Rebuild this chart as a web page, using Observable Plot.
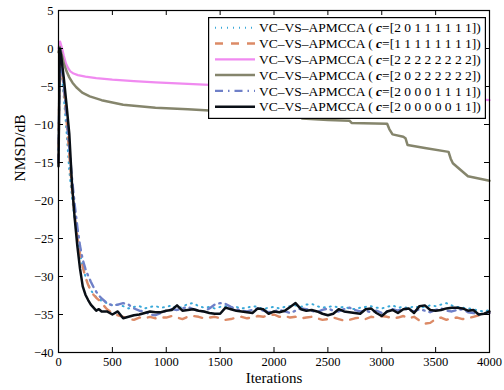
<!DOCTYPE html>
<html><head><meta charset="utf-8">
<script src="https://cdn.jsdelivr.net/npm/d3@7"></script>
<script src="https://cdn.jsdelivr.net/npm/@observablehq/plot@0.6"></script>
<style>
body{margin:0;background:#fff}
#wrap{position:relative;width:504px;height:390px;font-family:"Liberation Serif","Times New Roman",serif}
#legend{position:absolute;left:208px;top:17px}
</style></head><body><div id="wrap"></div>
<script>
// ---- data ----
const xTicks = [0, 500, 1000, 1500, 2000, 2500, 3000, 3500, 4000];
const yTicks = [-40, -35, -30, -25, -20, -15, -10, -5, 0, 5];

const iters = [0, 12, 25, 50, 75, 100, 125, 150, 175, 200, 225, 250, 275, 300, 325, 350, 375, 400,
  450, 500, 550, 600, 650, 700, 750, 800, 850, 900, 950, 1000,
  1050, 1100, 1150, 1200, 1250, 1300, 1350, 1400, 1450, 1500, 1550, 1600, 1650, 1700, 1750, 1800, 1850, 1900, 1950, 2000,
  2050, 2100, 2150, 2200, 2250, 2300, 2350, 2400, 2450, 2500, 2550, 2600, 2650, 2700, 2750, 2800, 2850, 2900, 2950, 3000,
  3050, 3100, 3150, 3200, 3250, 3300, 3350, 3400, 3450, 3500, 3550, 3600, 3650, 3700, 3750, 3800, 3850, 3900, 3950, 4000];

// c=[2 0 1 1 1 1 1 1]  (dotted)
const sDotted = [-15, 0, -2.5, -6.5, -11, -16, -19.5, -22.5, -25, -27, -28.7, -30, -31, -31.8, -32.3, -32.7, -33.0, -33.2,
  -33.5, -33.8, -33.7, -33.9, -34.2, -34.0, -33.9, -34.2, -34.0, -33.9, -34.1, -34.0,
  -33.8, -34.2, -34.0, -33.6, -33.5, -33.9, -34.1, -34.0, -34.2, -34.0, -33.9, -34.1, -34.0, -34.2, -34.1, -33.9, -34.0, -34.3, -34.1, -34.0,
  -34.2, -34.0, -33.9, -33.8, -34.0, -33.7, -33.6, -33.9, -34.1, -34.0, -33.9, -34.1, -34.0, -34.2, -34.3, -34.1, -34.0, -33.9, -34.1, -34.2,
  -34.0, -33.8, -34.1, -34.0, -34.2, -33.9, -34.1, -34.0, -33.8, -33.9, -33.7, -33.5, -33.8, -34.0, -34.1, -34.2, -34.3, -34.5, -34.6, -34.4];

// c=[1 1 1 1 1 1 1 1]  (dashed)
const sDashed = [-15, 0.3, -2, -5.5, -9.5, -14, -18.5, -22, -24.8, -27, -28.7, -30.1, -31.1, -31.9, -32.4, -32.8, -33.1, -33.5,
  -34.3, -34.8, -35.1, -35.3, -35.6, -35.7, -35.4, -35.5, -35.3, -35.5, -35.4, -35.4,
  -35.2, -35.4, -35.6, -35.3, -35.2, -35.3, -35.5, -35.4, -35.3, -35.5, -35.7, -35.6, -35.4, -35.3, -35.5, -35.4, -35.2, -35.3, -35.1, -35.0,
  -35.3, -35.2, -35.4, -35.3, -35.5, -35.4, -35.3, -35.5, -35.7, -35.6, -35.4, -35.6, -35.8, -35.7, -35.5, -35.4, -35.6, -35.3, -35.4, -35.2,
  -35.3, -35.5, -35.4, -35.2, -35.5, -35.3, -35.8, -36.2, -36.1, -35.6, -35.4, -35.7, -35.5, -35.4, -35.6, -35.5, -35.3, -35.1, -35.0, -34.8];

// c=[2 0 0 0 1 1 1 1]  (dash-dot)
const sDashDot = [-15, 0.2, -2, -5, -9, -13, -17, -20.5, -23.5, -26, -27.8, -29, -29.9, -30.7, -31.4, -32.0, -32.5, -32.9,
  -33.5, -33.8, -33.7, -33.5, -33.7, -34.2, -34.5, -34.6, -35.0, -35.1, -34.8, -34.5,
  -34.3, -34.4, -34.2, -34.0, -34.3, -34.5, -34.6, -34.2, -33.7, -33.5, -33.6, -34.0, -34.3, -34.5, -34.6, -34.4, -34.2, -34.5, -34.7, -34.6,
  -34.4, -34.6, -34.8, -34.5, -34.2, -34.3, -34.5, -34.7, -34.4, -34.2, -34.5, -34.6, -34.3, -34.1, -34.4, -34.6, -34.5, -34.7, -34.5, -34.8,
  -34.6, -34.3, -34.5, -34.2, -34.4, -34.6, -34.3, -34.5, -34.7, -34.4, -34.2, -34.5, -34.6, -34.4, -34.3, -34.7, -34.8, -35.0, -34.9, -34.8];

// c=[2 0 0 0 0 0 1 1]  (black)
const sBlack = [-15.5, 0, -1, -4, -7.5, -11.2, -17.8, -22.3, -26, -29, -31.3, -32.4, -33.1, -33.7, -34.1, -34.5, -34.3, -34.6,
  -34.6, -35.0, -34.6, -35.5, -35.3, -35.1, -35.0, -34.8, -34.6, -34.7, -34.7, -34.5,
  -34.4, -33.8, -34.5, -34.4, -34.3, -34.5, -34.6, -34.8, -34.9, -34.9, -34.1, -34.3, -34.5, -34.6, -34.7, -34.8, -34.2, -34.3, -34.9, -34.6,
  -34.7, -34.5, -34.0, -33.5, -34.3, -34.5, -34.4, -34.6, -34.9, -35.1, -34.9, -34.3, -34.6, -34.7, -34.8, -34.9, -34.3, -34.2, -34.8, -35.2,
  -34.6, -34.4, -34.8, -34.3, -34.2, -34.8, -33.9, -33.8, -34.4, -34.5, -34.4, -34.2, -34.1, -34.1, -34.2, -34.5, -34.4, -35.0, -34.9, -34.6];

// c=[2 2 2 2 2 2 2 2]  (pink)
const pinkX = [0, 15, 30, 50, 70, 90, 110, 140, 180, 250, 350, 500, 700, 900, 1100, 1350, 1600, 2000, 2500, 3000, 3500, 3800, 4000];
const pinkY = [0.0, 0.9, 0.2, -1.0, -2.0, -2.6, -3.0, -3.3, -3.5, -3.7, -3.9, -4.1, -4.3, -4.45, -4.6, -4.75, -4.9, -5.1, -5.5, -5.9, -6.4, -6.6, -6.8];

// c=[2 0 2 2 2 2 2 2]  (grey)
const greyX = [0, 12, 30, 50, 75, 100, 130, 165, 220, 290, 400, 600, 900, 1200, 1400, 1700, 2000, 2240, 2260, 2500, 2700, 2720, 3050, 3070, 3100, 3200, 3220, 3240, 3400, 3620, 3640, 3660, 3700, 3800, 3900, 4000];
const greyY = [-0.5, 0.2, -0.8, -2.0, -3.0, -3.8, -4.5, -5.1, -5.8, -6.3, -6.8, -7.4, -7.8, -8.0, -8.15, -8.3, -8.4, -8.5, -9.2, -9.4, -9.5, -9.8, -9.9, -10.6, -11.3, -11.6, -11.8, -12.7, -13.1, -13.6, -14.5, -15.1, -15.6, -16.8, -17.1, -17.4];

const labels = [
  "VC–VS–APMCCA ( |c|=[2 0 1 1 1 1 1 1])",
  "VC–VS–APMCCA ( |c|=[1 1 1 1 1 1 1 1])",
  "VC–VS–APMCCA ( |c|=[2 2 2 2 2 2 2 2])",
  "VC–VS–APMCCA ( |c|=[2 0 2 2 2 2 2 2])",
  "VC–VS–APMCCA ( |c|=[2 0 0 0 1 1 1 1])",
  "VC–VS–APMCCA ( |c|=[2 0 0 0 0 0 1 1])"
];
const colors = ["#3aa9d9", "#dc8a66", "#f08af0", "#85856c", "#6f80c8", "#0a0f16"];
const widths = [2, 2.4, 2.2, 2.5, 2.4, 2.5];
const dashes = ["1,5", "8,8", null, null, "8,5,1.5,5", null];

// ---- build ----
const fast = [sDotted, sDashed, null, null, sDashDot, sBlack];
function rows(i) {
  if (i === 2) return pinkX.map((x, j) => ({x, y: pinkY[j]}));
  if (i === 3) return greyX.map((x, j) => ({x, y: greyY[j]}));
  return iters.map((x, j) => ({x, y: fast[i][j]}));
}
const fmt = d => d < 0 ? "\u2212" + Math.abs(d) : String(d);
const W = 504, H = 390, mL = 58, mR = 15, mT = 10, mB = 38;
const pw = W - mL - mR, ph = H - mT - mB;
const font = '"Liberation Serif","Times New Roman",serif';

const lineMarks = labels.map((_, i) => Plot.line(rows(i), {
  x: "x", y: "y", stroke: colors[i], strokeWidth: widths[i],
  strokeDasharray: dashes[i] || undefined, strokeLinejoin: "round", curve: "linear"
}));

const chart = Plot.plot({
  width: W, height: H, marginLeft: mL, marginRight: mR, marginTop: mT, marginBottom: mB,
  x: {domain: [0, 4000]}, y: {domain: [-40, 5]},
  style: {fontFamily: font, fontSize: "12.5px", color: "black", background: "white"},
  marks: [
    ...lineMarks,
    Plot.frame({stroke: "black", strokeWidth: 1.2}),
    Plot.tickX(xTicks, {x: d => d, insetTop: ph - 5, stroke: "black"}),
    Plot.tickX(xTicks, {x: d => d, insetBottom: ph - 5, stroke: "black"}),
    Plot.tickY(yTicks, {y: d => d, insetRight: pw - 5, stroke: "black"}),
    Plot.tickY(yTicks, {y: d => d, insetLeft: pw - 5, stroke: "black"}),
    Plot.axisX(xTicks, {tickSize: 0, tickPadding: 5, tickFormat: fmt, label: null, fontSize: 12.5}),
    Plot.axisY(yTicks, {tickSize: 0, tickPadding: 5, tickFormat: fmt, label: null, fontSize: 12.5}),
    Plot.text(["NMSD/dB"], {frameAnchor: "left", dx: -38, rotate: -90, text: d => d, fontSize: 15.5, fill: "black"}),
    Plot.text(["Iterations"], {frameAnchor: "bottom", dy: 30, text: d => d, fontSize: 15, fill: "black"})
  ]
});
const wrap = document.getElementById("wrap");
wrap.appendChild(chart);

// ---- legend ----
const lw = 278, lh = 102, rowH = 15.8, row0 = 10.7;
const leg = d3.select(wrap).append("svg").attr("id", "legend").attr("width", lw).attr("height", lh);
leg.append("rect").attr("x", 0.6).attr("y", 0.6).attr("width", lw - 1.2).attr("height", lh - 1.2)
  .attr("fill", "white").attr("stroke", "black").attr("stroke-width", 1.2);
labels.forEach((lab, i) => {
  const cy = row0 + i * rowH;
  const ln = leg.append("line").attr("x1", 7).attr("x2", 47).attr("y1", cy).attr("y2", cy)
    .attr("stroke", colors[i]).attr("stroke-width", widths[i]);
  if (dashes[i]) ln.attr("stroke-dasharray", dashes[i]);
  const [a, b, c] = lab.split("|");
  const t = leg.append("text").attr("x", 51).attr("y", cy + 4.6)
    .attr("font-family", font).attr("font-size", 13.5).attr("fill", "black");
  t.append("tspan").text(a);
  t.append("tspan").attr("font-weight", "bold").attr("font-style", "italic").text(b);
  t.append("tspan").text(c);
});
</script></body></html>
